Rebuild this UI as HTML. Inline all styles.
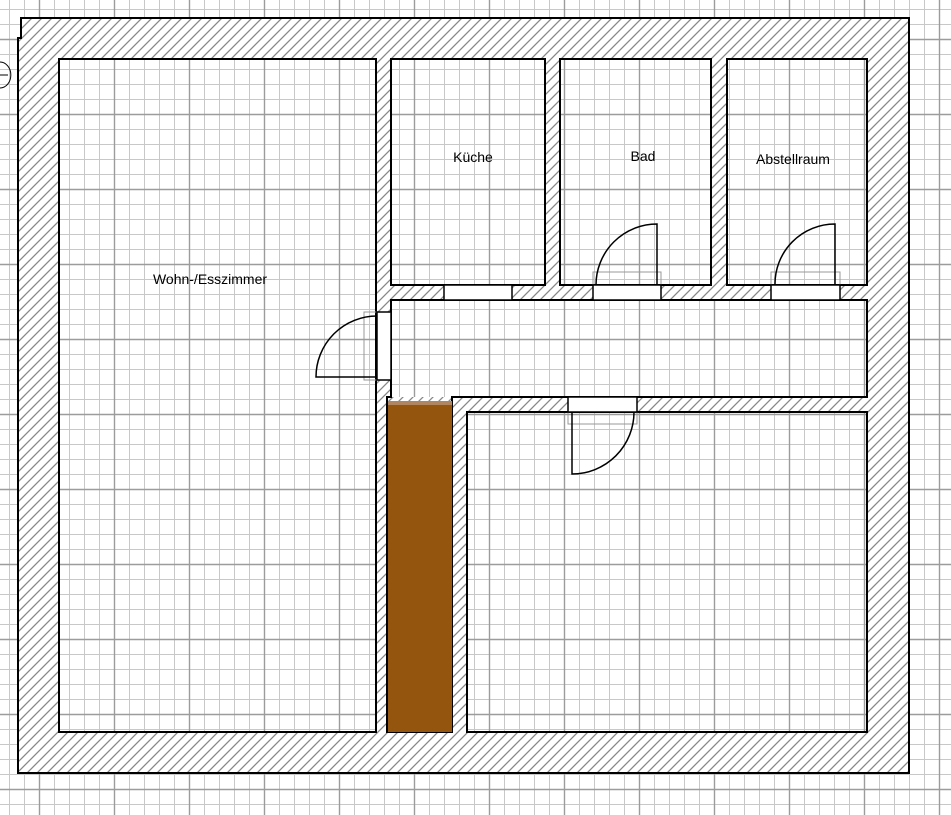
<!DOCTYPE html>
<html><head><meta charset="utf-8"><style>
html,body{margin:0;padding:0;background:#fff;}
svg{display:block;}
text{font-family:"Liberation Sans",sans-serif;font-size:14px;fill:#000;}
</style></head><body>
<svg width="951" height="815" viewBox="0 0 951 815" xmlns="http://www.w3.org/2000/svg">
<defs>
<pattern id="minor" x="2" y="2" width="15" height="15" patternUnits="userSpaceOnUse">
<path d="M7.5 0V15M0 7.5H15" stroke="#c8c8c8" stroke-width="1" fill="none"/>
</pattern>
<pattern id="major" x="2" y="2" width="75" height="75" patternUnits="userSpaceOnUse">
<path d="M37.5 0V75M0 37.5H75" stroke="#9c9c9c" stroke-width="1.4" fill="none"/>
</pattern>
<pattern id="hatch" x="0" y="0" width="10" height="10" patternUnits="userSpaceOnUse">
<rect width="10" height="10" fill="#fff"/>
<path d="M-2 12L12 -2M-2 2L2 -2M8 12L12 8" stroke="#888" stroke-width="1.3"/>
</pattern>
<g id="grid"><rect width="951" height="815" fill="#fff"/><rect width="951" height="815" fill="url(#minor)"/><rect width="951" height="815" fill="url(#major)"/></g>
<clipPath id="rooms">
<rect x="59" y="59" width="317" height="673"/>
<rect x="391" y="59" width="154" height="226"/>
<rect x="560" y="59" width="151" height="226"/>
<rect x="727" y="59" width="140" height="226"/>
<rect x="391" y="300" width="476" height="97"/>
<rect x="467" y="412" width="400" height="320"/>
</clipPath>
</defs>
<use href="#grid"/>
<path d="M21 18H909V773H18V38H21Z" fill="url(#hatch)" stroke="#000" stroke-width="2"/>
<g clip-path="url(#rooms)"><use href="#grid"/></g>
<g fill="none" stroke="#000" stroke-width="2">
<rect x="59" y="59" width="317" height="673"/>
<rect x="391" y="59" width="154" height="226"/>
<rect x="560" y="59" width="151" height="226"/>
<rect x="727" y="59" width="140" height="226"/>
<path d="M391 300H867V397H452V732H387V397H391Z"/>
<rect x="467" y="412" width="400" height="320"/>
<path d="M391 300V397"/>
</g>
<rect x="388" y="401" width="64" height="331" fill="#94560f"/>
<rect x="388" y="401" width="64" height="4" fill="#b08560"/>
<g stroke="#000" stroke-width="1.5">
<rect x="444" y="285" width="68" height="15" fill="#fff"/>
<rect x="593" y="272" width="68" height="28" fill="none" stroke="#999" stroke-width="1"/>
<rect x="593" y="285" width="68" height="15" fill="#fff"/>
<path d="M657 285V224A61 61 0 0 0 596 285" fill="none"/>
<rect x="771" y="272" width="69" height="28" fill="none" stroke="#999" stroke-width="1"/>
<rect x="771" y="285" width="69" height="15" fill="#fff"/>
<path d="M835 285V224A60 60 0 0 0 775 285" fill="none"/>
<rect x="364" y="312" width="27" height="68" fill="none" stroke="#999" stroke-width="1"/>
<rect x="377" y="312" width="14" height="68" fill="#fff"/>
<path d="M377 377H316A61 61 0 0 1 377 316" fill="none"/>
<rect x="568" y="397" width="69" height="27" fill="none" stroke="#999" stroke-width="1"/>
<rect x="568" y="397" width="69" height="15" fill="#fff"/>
<path d="M572 412V474A62 62 0 0 0 634 412" fill="none"/>
<path d="M0 62A10 12 0 0 1 0 88" fill="none" stroke-width="1"/>
<path d="M0 75H8" stroke-width="1"/>
</g>
<text x="473" y="162" text-anchor="middle">Küche</text>
<text x="643" y="161" text-anchor="middle">Bad</text>
<text x="793" y="164" text-anchor="middle">Abstellraum</text>
<text x="210" y="284" text-anchor="middle">Wohn-/Esszimmer</text>
</svg>
</body></html>
